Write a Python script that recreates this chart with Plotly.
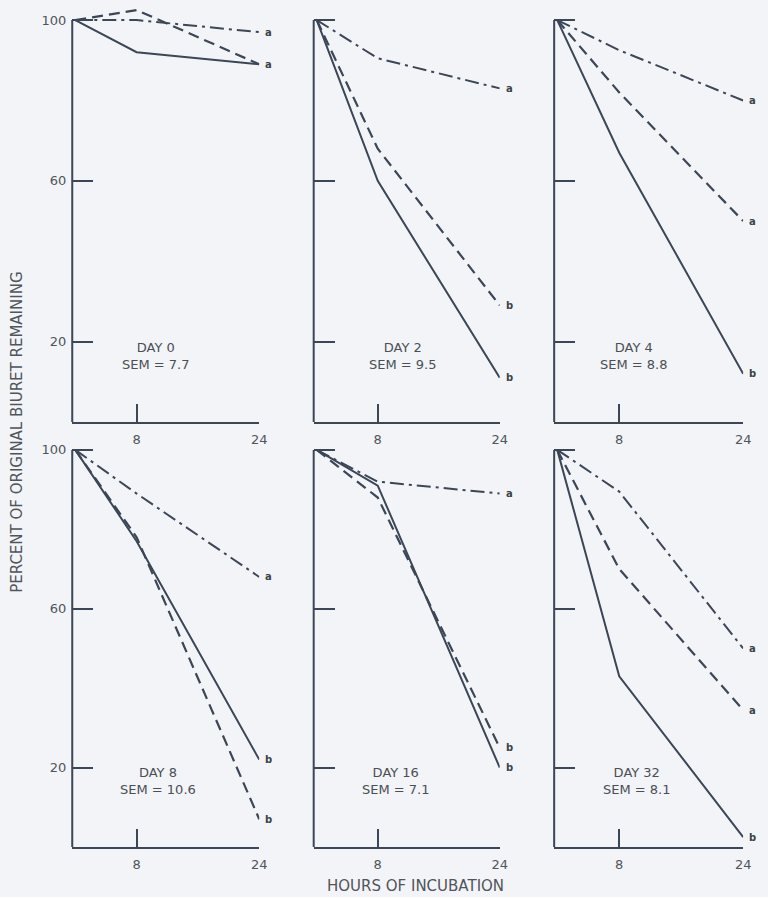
import plotly.graph_objects as go

# ---------------- data ----------------
hours = [0, 8, 24]
day_labels = ["DAY 0", "DAY 2", "DAY 4", "DAY 8", "DAY 16", "DAY 32"]
sem_labels = ["SEM = 7.7", "SEM = 9.5", "SEM = 8.8", "SEM = 10.6", "SEM = 7.1", "SEM = 8.1"]

solid_vals = [
    [100, 92, 89],
    [100, 60, 11],
    [100, 67, 12],
    [100, 77, 22],
    [100, 91, 20],
    [100, 43, 2.5],
]
dashed_vals = [
    [100, 102.5, 89],
    [100, 68, 29],
    [100, 82, 50],
    [100, 78, 7],
    [100, 88, 25],
    [100, 70, 34.5],
]
dashdot_vals = [
    [100, 100, 97],
    [100, 90.5, 83],
    [100, 92.5, 80],
    [100, 89, 68],
    [100, 92, 89],
    [100, 89.5, 50],
]
solid_sig = ["", "b", "b", "b", "b", "b"]
dashed_sig = ["a", "b", "a", "b", "b", "a"]
dashdot_sig = ["a", "a", "a", "a", "a", "a"]

y_ticks = [20, 60, 100]
x_ticks = [8, 24]

# ---------------- style ----------------
W, H = 768, 897
BG = "#f3f4f7"
INK = "#3b4657"
TXT = "#50555b"
FONT = "DejaVu Sans, sans-serif"

col_px = [(73, 262), (317, 505), (560, 751)]
row_px = [(4, 422), (434, 847)]  # top (y=104), bottom (y=0)
text_xfrac = [0.45, 0.48, 0.42, 0.46, 0.44, 0.44]

styles = [
    (solid_vals, solid_sig, dict(width=2, dash="solid")),
    (dashed_vals, dashed_sig, dict(width=2.2, dash="11px,6px")),
    (dashdot_vals, dashdot_sig, dict(width=2, dash="14px,5px,3px,5px")),
]

fig = go.Figure()
layout = dict(
    width=W, height=H,
    margin=dict(l=0, r=0, t=0, b=0),
    paper_bgcolor=BG, plot_bgcolor=BG,
    showlegend=False,
    font=dict(family=FONT, color=TXT),
)
shapes = []
annotations = []

for i in range(6):
    r, c = divmod(i, 3)
    n = "" if i == 0 else str(i + 1)
    xa, ya = "x" + n, "y" + n
    x0p, x1p = col_px[c]
    ytop, ybot = row_px[r]
    layout["xaxis" + n] = dict(
        domain=[x0p / W, x1p / W], range=[-0.4, 24], anchor=ya,
        tickvals=x_ticks, ticktext=[str(v) for v in x_ticks],
        ticks="inside", ticklen=18, tickwidth=2, tickcolor=INK,
        showline=True, linewidth=2, linecolor=INK,
        showgrid=False, zeroline=False, fixedrange=True,
        ticklabelstandoff=4,
        tickfont=dict(size=13, color=TXT, family=FONT),
    )
    layout["yaxis" + n] = dict(
        domain=[1 - ybot / H, 1 - ytop / H], range=[0, 104], anchor=xa,
        tickvals=y_ticks, ticktext=[str(v) for v in y_ticks],
        ticks="inside", ticklen=21, tickwidth=2, tickcolor=INK,
        showline=False, showgrid=False, zeroline=False, fixedrange=True,
        showticklabels=(c == 0), ticklabelstandoff=5,
        tickfont=dict(size=13, color=TXT, family=FONT),
    )
    # y axis line from 0 to 100
    shapes.append(dict(type="line", xref=xa + " domain", yref=ya,
                       x0=0, x1=0, y0=0, y1=max(y_ticks),
                       line=dict(color=INK, width=2)))
    for vals, sigs, ls in styles:
        fig.add_trace(go.Scatter(
            x=hours, y=vals[i], mode="lines", xaxis=xa, yaxis=ya,
            line=dict(color=INK, **ls), hoverinfo="skip",
        ))
        if sigs[i]:
            annotations.append(dict(
                x=hours[-1], y=vals[i][-1], xref=xa, yref=ya,
                text="<b>" + sigs[i] + "</b>", showarrow=False,
                xanchor="left", yanchor="middle", xshift=4,
                font=dict(size=10, color="#3d4248", family=FONT),
            ))
    annotations.append(dict(
        x=text_xfrac[i], y=16.5, xref=xa + " domain", yref=ya,
        text=day_labels[i] + "<br>" + sem_labels[i], showarrow=False,
        xanchor="center", yanchor="middle", align="center",
        font=dict(size=13, color="#4a4f55", family=FONT),
    ))

annotations.append(dict(
    x=17 / W, y=1 - 432 / H, xref="paper", yref="paper",
    text="PERCENT OF ORIGINAL BIURET REMAINING", textangle=-90,
    showarrow=False, xanchor="center", yanchor="middle",
    font=dict(size=15, color=TXT, family=FONT),
))
annotations.append(dict(
    x=420 / W, y=1 - 886 / H, xref="paper", yref="paper",
    text="HOURS OF INCUBATION", showarrow=False,
    xanchor="center", yanchor="middle",
    font=dict(size=15, color=TXT, family=FONT),
))

layout["shapes"] = shapes
layout["annotations"] = annotations
fig.update_layout(**layout)
fig.write_html(
    "out.html",
    config={"displayModeBar": False, "staticPlot": True},
    post_script=(
        "document.body.style.margin='0';"
        "document.body.style.overflow='hidden';"
        "document.body.style.background='" + BG + "';"
    ),
)
